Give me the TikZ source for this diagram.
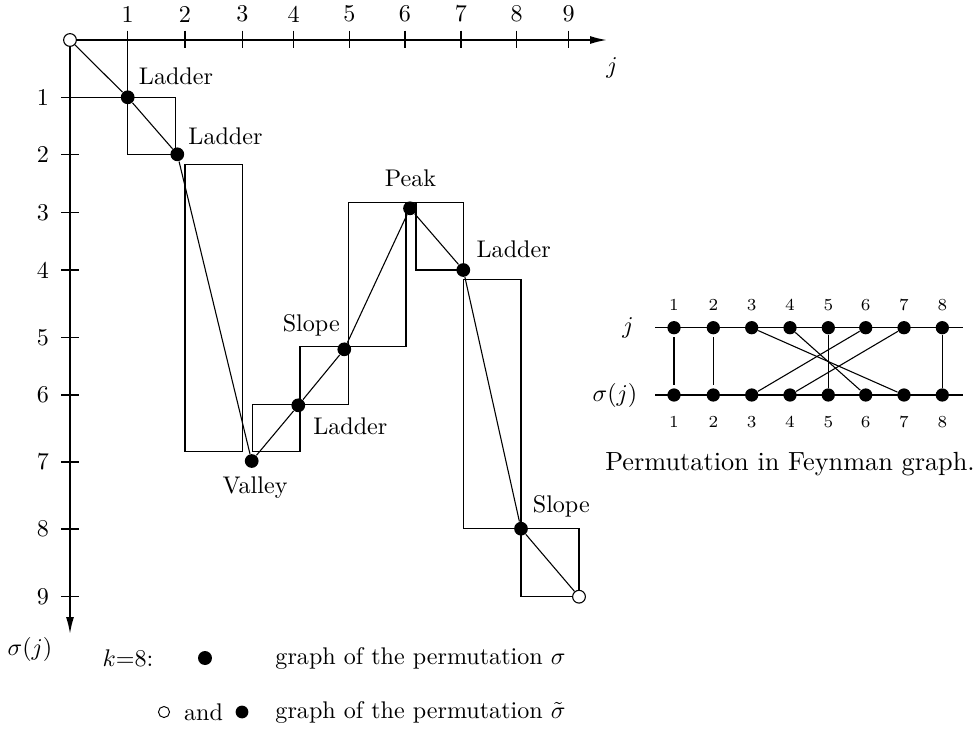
\documentclass[tikz,border=0pt]{standalone}
\usetikzlibrary{arrows.meta}
\begin{document}
\begin{tikzpicture}[x=0.415pt,y=-0.415pt,
  dot/.style={circle,fill=black,inner sep=0pt,minimum size=5.7pt},
  odot/.style={circle,draw=black,fill=white,line width=0.45pt,inner sep=0pt,minimum size=5.3pt},
  fdot/.style={circle,fill=black,inner sep=0pt,minimum size=5.5pt},
  rline/.style={line width=0.45pt},
  axisline/.style={line width=0.7pt,-{Latex[length=7pt,width=3.3pt]}},
  ticklbl/.style={inner sep=0pt},
  lbl/.style={inner sep=0pt},
  flbl/.style={inner sep=0pt,font=\scriptsize}]
\useasboundingbox (0,0) rectangle (977,729);

% axes
\coordinate (org) at (70,40);
\coordinate (xend) at (607,40);
\coordinate (yend) at (70,634);
\draw[axisline] (org) -- (xend);
\draw[axisline] (org) -- (yend);
\node[lbl] (jlab) at (612,68) {$j$};
\node[lbl] (sjlab) at (30,649) {$\sigma(j)$};

% ticks
\foreach \x/\l in {127.7/1,185/2,242.3/3,293.7/4,349.3/5,405/6,461/7,516.7/8,568.7/9}{
  \draw[rline] (\x,30.7) -- (\x,48.3);
  \node[ticklbl] (xt\l) at (\x,14) {\l};
}
\foreach \y/\l in {97.3/1,154.7/2,212.3/3,270/4,337.3/5,395/6,462/7,529/8,596.7/9}{
  \draw[rline] (61,\y) -- (79.3,\y);
  \node[ticklbl] (yt\l) at (43,\y) {\l};
}

% rectangles
\draw[rline] (127.7,40) -- (127.7,97.3);
\draw[rline] (70,97.3) -- (127.7,97.3);
\draw[rline] (127.7,97.3) rectangle (175.3,154.7);
\draw[rline] (185,164.3) rectangle (242.3,451.7);
\draw[rline] (252.3,404.3) rectangle (300,451.7);
\draw[rline] (300,346.7) rectangle (348.3,404.3);
\draw[rline] (348.3,202.7) rectangle (406,346.7);
\draw[rline] (406,202.7) -- (416,202.7);
\draw[rline] (416,202.7) rectangle (463.3,270);
\draw[rline] (463.3,279.3) rectangle (521,528.7);
\draw[rline] (521,528.7) rectangle (579,596.7);

% points
\node[odot] (p0) at (70,40) {};
\node[dot] (p1) at (127.7,97.3) {};
\node[dot] (p2) at (177.3,154.3) {};
\node[dot] (p3) at (251.7,461) {};
\node[dot] (p4) at (298.3,405.3) {};
\node[dot] (p5) at (344.3,349.3) {};
\node[dot] (p6) at (410,208.3) {};
\node[dot] (p7) at (463.3,270) {};
\node[dot] (p8) at (521,528.7) {};
\node[odot] (p9) at (579,596.7) {};

\draw[rline] (p0) -- (p1) -- (p2) -- (p3) -- (p4) -- (p5) -- (p6) -- (p7) -- (p8) -- (p9);

% labels
\node[lbl] (l1) at (176,76.7) {Ladder};
\node[lbl] (l2) at (225.5,136) {Ladder};
\node[lbl] (l3) at (255,488) {Valley};
\node[lbl] (l4) at (350.3,426.7) {Ladder};
\node[lbl] (l5) at (311.3,325) {Slope};
\node[lbl] (l6) at (410.5,178) {Peak};
\node[lbl] (l7) at (513.7,249.3) {Ladder};
\node[lbl] (l8) at (561.3,506) {Slope};

% Feynman graph
\draw[rline] (655,327.7) -- (962.7,327.7);
\draw[rline] (655,395) -- (962.7,395);
\foreach \x/\l in {674/1,713.3/2,751.7/3,790/4,828.3/5,865.7/6,904/7,942.3/8}{
  \node[fdot] (t\l) at (\x,327.7) {};
  \node[fdot] (b\l) at (\x,395) {};
  \node[flbl] (tl\l) at (\x,305) {\l};
  \node[flbl] (bl\l) at (\x,421.7) {\l};
}
\node[lbl] (fj) at (628,327.7) {$j$};
\node[lbl] (fsj) at (615,395) {$\sigma(j)$};
\draw[rline,shorten <=1pt,shorten >=1pt] (t1) -- (b1);
\draw[rline,shorten <=1pt,shorten >=1pt] (t2) -- (b2);
\draw[rline] (t3) -- (b7);
\draw[rline] (t4) -- (b6);
\draw[rline] (t5) -- (b5);
\draw[rline] (t6) -- (b3);
\draw[rline] (t7) -- (b4);
\draw[rline] (t8) -- (b8);
\node[lbl,scale=1.09] (cap) at (790,464) {Permutation in Feynman graph.};

% legend
\node[lbl] (k8) at (128,658) {$k{=}8$:};
\node[fdot,minimum size=5.8pt] (ld1) at (205,658) {};
\node[lbl,anchor=west] (lt1) at (275,658) {graph of the permutation $\sigma$};
\node[circle,draw=black,line width=0.4pt,inner sep=0pt,minimum size=4.6pt] (lo2) at (164,712) {};
\node[lbl] (and) at (203.5,712) {and};
\node[fdot,minimum size=5.3pt] (ld2) at (242,712) {};
\node[lbl,anchor=west] (lt2) at (275,712) {graph of the permutation $\tilde{\sigma}$};
\end{tikzpicture}
\end{document}
